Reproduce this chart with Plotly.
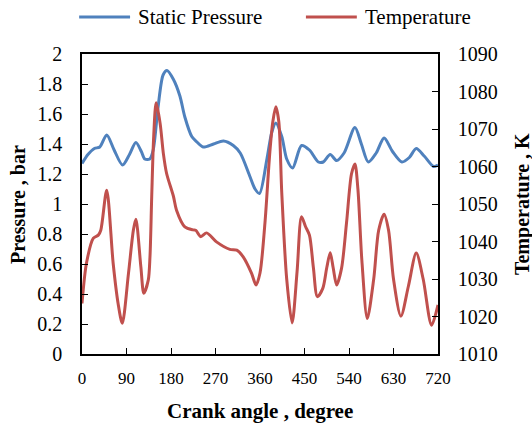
import plotly.graph_objects as go

# Data
p_angle = [0, 12, 25, 36, 50, 65, 82, 96, 109, 120, 127, 137, 144, 154, 164, 172, 185, 198, 208, 222, 232, 245,
           266, 286, 306, 320, 340, 350, 359, 374, 384, 392, 404, 414, 426, 444, 460, 478, 488, 502, 515,
           530, 552, 565, 579, 595, 611, 628, 647, 662, 676, 692, 711, 720]
pressure = [1.27, 1.33, 1.37, 1.38, 1.46, 1.36, 1.26, 1.33, 1.41, 1.35, 1.30, 1.30, 1.36, 1.65, 1.86, 1.89, 1.83, 1.72, 1.58, 1.45, 1.415, 1.38,
            1.40, 1.42, 1.39, 1.34, 1.18, 1.10, 1.07, 1.30, 1.48, 1.54, 1.45, 1.30, 1.24, 1.39, 1.36, 1.28, 1.28, 1.33, 1.29,
            1.34, 1.51, 1.40, 1.28, 1.34, 1.44, 1.35, 1.28, 1.31, 1.37, 1.32, 1.25, 1.26]

t_angle = [0, 9, 23, 33, 38, 50, 63, 73, 81.5, 94, 104, 109, 119, 125, 134, 137.5, 141, 145, 150, 158, 164.5, 171,
           185, 191, 208, 225, 230, 240, 252, 272, 299, 313, 326, 343, 352, 360, 370, 380, 386, 392, 398, 404,
           414, 425, 435, 444, 452, 460, 468, 476, 487, 495, 502, 508, 515, 525, 535, 545, 552, 558, 566, 577,
           590, 600, 611, 620, 630, 645, 660, 676, 690, 707, 720]
temperature = [1023.5, 1034.2, 1040.9, 1041.7, 1043, 1053.7, 1034.2, 1023.5, 1018.2, 1031.5, 1043.1, 1045.9, 1033.3, 1026.2, 1029.7, 1036, 1052, 1068, 1077, 1071.5, 1063.5, 1058.2,
               1052, 1048.4, 1043.9, 1043.1, 1043, 1041.3, 1042.3, 1039.9, 1037.9, 1037.7, 1035.9, 1031.5, 1028.4, 1031.6, 1044.9, 1064, 1072, 1075.9, 1072, 1053,
               1030, 1018.3, 1032, 1046.6, 1044, 1041.7, 1033, 1025.3, 1027.5, 1033, 1037.0, 1033, 1028.4, 1032.9, 1045, 1058, 1060.7, 1054, 1035, 1019.5,
               1030, 1043, 1047.3, 1043, 1030, 1020.1, 1028, 1036.9, 1030, 1017.7, 1023.1]

x_ticks = [0, 90, 180, 270, 360, 450, 540, 630, 720]
series_names = ["Static Pressure", "Temperature"]
colors = ["#4F81BD", "#C0504D"]

FONT = "'Times New Roman', 'Liberation Serif', 'DejaVu Serif', serif"

fig = go.Figure()
fig.add_trace(go.Scatter(x=p_angle, y=pressure, mode="lines", name=series_names[0],
                         line=dict(color=colors[0], width=3, shape="spline", smoothing=0.8),
                         yaxis="y", showlegend=False))
fig.add_trace(go.Scatter(x=t_angle, y=temperature, mode="lines", name=series_names[1],
                         line=dict(color=colors[1], width=3, shape="spline", smoothing=0.8),
                         yaxis="y2", showlegend=False))

axis_common = dict(showline=True, linecolor="black", linewidth=1.5, ticks="inside", ticklen=6,
                   tickcolor="black", tickwidth=1.2, showgrid=False, zeroline=False)

fig.update_layout(
    width=532, height=426,
    margin=dict(l=82, r=94, t=54, b=72),
    paper_bgcolor="white", plot_bgcolor="white",
    font=dict(family=FONT, color="black"),
    xaxis=dict(range=[0, 720], tickvals=x_ticks, mirror=True, tickfont=dict(size=17, family=FONT),
               ticklabelstandoff=8, **axis_common),
    yaxis=dict(range=[0, 2], dtick=0.2, tickfont=dict(size=20, family=FONT), ticklabelstandoff=14, **axis_common),
    yaxis2=dict(range=[1010, 1090], dtick=10, overlaying="y", side="right", tickfont=dict(size=20, family=FONT),
                ticklabelstandoff=14, **axis_common),
)

# Axis titles
fig.add_annotation(text="<b>Pressure , bar</b>", xref="paper", yref="paper", x=-0.18, y=0.5,
                   textangle=-90, showarrow=False, font=dict(size=20, family=FONT), xanchor="center", yanchor="middle")
fig.add_annotation(text="<b>Temperature , K</b>", xref="paper", yref="paper", x=1.236, y=0.5,
                   textangle=-90, showarrow=False, font=dict(size=20, family=FONT), xanchor="center", yanchor="middle")
fig.add_annotation(text="<b>Crank angle , degree</b>", xref="paper", yref="paper", x=0.5, y=-0.19,
                   showarrow=False, font=dict(size=21, family=FONT), xanchor="center", yanchor="middle")

# Legend drawn at top
legend_y = 1.123
fig.add_shape(type="line", xref="paper", yref="paper", x0=-0.008, x1=0.135, y0=legend_y, y1=legend_y,
              line=dict(color=colors[0], width=3))
fig.add_annotation(text=series_names[0], xref="paper", yref="paper", x=0.152, y=legend_y, xanchor="left",
                   yanchor="middle", showarrow=False, font=dict(size=21, family=FONT))
fig.add_shape(type="line", xref="paper", yref="paper", x0=0.629, x1=0.772, y0=legend_y, y1=legend_y,
              line=dict(color=colors[1], width=3))
fig.add_annotation(text=series_names[1], xref="paper", yref="paper", x=0.789, y=legend_y, xanchor="left",
                   yanchor="middle", showarrow=False, font=dict(size=21, family=FONT))

fig.write_html("out.html")
